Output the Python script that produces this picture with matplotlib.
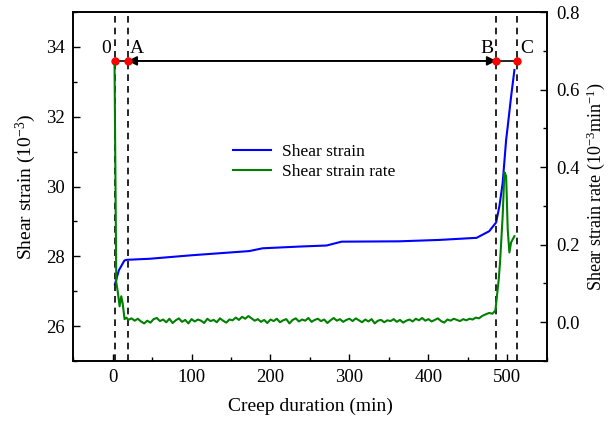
import numpy as np
import matplotlib
matplotlib.use("Agg")
import matplotlib.pyplot as plt
from matplotlib.ticker import MultipleLocator

plt.rcParams['font.family'] = ['Liberation Serif', 'DejaVu Serif']
plt.rcParams['mathtext.fontset'] = 'custom'
plt.rcParams['mathtext.rm'] = 'Liberation Serif'
plt.rcParams['mathtext.it'] = 'Liberation Serif:italic'
plt.rcParams['font.size'] = 13.5

# --- shear strain (10^-3) ---
strain_t = [3, 8, 15, 18, 47, 100, 173, 190, 237, 271, 290, 363, 414, 461,
            477, 485.7, 489.9, 494, 498.4, 500.4, 504.7, 508.9]
strain = [27.2, 27.6, 27.88, 27.9, 27.93, 28.03, 28.15, 28.23, 28.28, 28.31,
          28.42, 28.43, 28.47, 28.53, 28.72, 28.97, 29.44, 30.1, 31.34, 31.72,
          32.58, 33.34]

# --- shear strain rate (10^-3 min^-1) ---
rate_start_t = [2.5, 4.0, 4.7, 6.7, 8.9, 11.0, 12.7, 15.2, 17.5]
rate_start = [0.663, 0.30, 0.103, 0.077, 0.041, 0.067, 0.05, 0.008, 0.012]

rate_mid_t = list(range(20, 473, 4))
rate_mid = [
    0.006, 0.010, 0.004, 0.009, 0.002, -0.003, 0.004, -0.001, 0.008, 0.011, 0.003, 0.007,
    0.000, 0.009, -0.002, 0.005, 0.010, 0.001, 0.006, -0.003, 0.008, 0.002, 0.007, 0.004,
    -0.002, 0.009, 0.003, 0.006, 0.000, 0.010, 0.004, -0.001, 0.007, 0.005, 0.012, 0.006,
    0.014, 0.009, 0.016, 0.010, 0.004, 0.008, 0.001, 0.006, -0.002, 0.007, 0.003, 0.009,
    0.000, 0.005, 0.008, -0.003, 0.006, 0.010, 0.002, 0.007, 0.004, 0.011, 0.001, 0.006,
    0.009, 0.003, 0.007, -0.002, 0.005, 0.011, 0.004, 0.008, 0.001, 0.006, 0.009, 0.003,
    0.010, 0.005, 0.000, 0.007, 0.002, 0.008, -0.003, 0.004, 0.006, 0.000, 0.005, 0.003,
    0.008, 0.001, 0.006, -0.001, 0.004, 0.007, 0.002, 0.009, 0.005, 0.011, 0.004, 0.008,
    0.002, 0.006, 0.010, 0.003, -0.001, 0.007, 0.004, 0.009, 0.006, 0.003, 0.008, 0.005,
    0.009, 0.007, 0.012, 0.010, 0.016, 0.020,
]

rate_end_t = [477, 481, 484.8, 487.7, 489, 490.7, 494, 496.2, 498.4, 500.4,
              502.5, 504.7, 508.9]
rate_end = [0.024, 0.022, 0.030, 0.085, 0.11, 0.155, 0.274, 0.387, 0.377,
            0.24, 0.18, 0.206, 0.222]

rate_t = rate_start_t + rate_mid_t + rate_end_t
rate = rate_start + rate_mid + rate_end

# stage boundaries
stage_labels = ['0', 'A', 'B', 'C']
stage_t = [2.5, 19, 486, 512]
stage_y = 33.6

fig = plt.figure(figsize=(6.09, 4.22), dpi=100)
ax1 = fig.add_axes([0.120, 0.1445, 0.778, 0.827])
ax2 = ax1.twinx()

l1, = ax1.plot(strain_t, strain, color='#0000ff', lw=1.5, label='Shear strain')
l2, = ax2.plot(rate_t, rate, color='#008000', lw=1.5, label='Shear strain rate')

for t in stage_t:
    ax1.axvline(t, color='black', ls=(0, (4, 3)), lw=1.2)

ax1.plot([stage_t[0], stage_t[3]], [stage_y, stage_y], color='black', lw=1.2)
ax1.annotate('', xy=(stage_t[1], stage_y), xytext=(stage_t[2], stage_y),
             arrowprops=dict(arrowstyle='<|-|>', color='black', lw=1.2,
                             mutation_scale=14, shrinkA=0, shrinkB=0))
ax1.plot(stage_t, [stage_y] * 4, 'o', color='red', ms=5, zorder=5)
offsets = [-6, 7, -7, 7]
for lab, t, dx in zip(stage_labels, stage_t, offsets):
    ax1.annotate(lab, (t, stage_y), xytext=(dx, 9), textcoords='offset points',
                 ha='center', va='center', fontsize=14)

ax1.set_xlim(-50, 550)
ax1.set_ylim(25, 35)
ax2.set_ylim(-0.1, 0.8)

ax1.xaxis.set_major_locator(MultipleLocator(100))
ax1.xaxis.set_minor_locator(MultipleLocator(50))
ax1.yaxis.set_major_locator(MultipleLocator(2))
ax1.yaxis.set_minor_locator(MultipleLocator(1))
ax2.yaxis.set_major_locator(MultipleLocator(0.2))
ax2.yaxis.set_minor_locator(MultipleLocator(0.1))
ax2.yaxis.set_major_formatter(plt.FormatStrFormatter('%.1f'))

for ax in (ax1, ax2):
    ax.tick_params(which='major', direction='in', length=5, width=1, pad=6)
    ax.tick_params(which='minor', direction='in', length=3, width=1)
    for s in ax.spines.values():
        s.set_linewidth(1.2)
ax2.tick_params(axis='y', which='major', pad=7)

ax1.set_xlabel('Creep duration (min)', labelpad=8, fontsize=14)
ax1.set_ylabel('Shear strain (10$^{-3}$)', fontsize=14, labelpad=6)
ax2.set_ylabel('Shear strain rate (10$^{-3}$min$^{-1}$)', fontsize=13, labelpad=3)

ax2.legend([l1, l2], ['Shear strain', 'Shear strain rate'], frameon=False,
           loc='upper left', bbox_to_anchor=(0.305, 0.666), handlelength=2.2,
           handletextpad=0.6, labelspacing=0.2, fontsize=12.5)

fig.savefig('out.png', dpi=100)
